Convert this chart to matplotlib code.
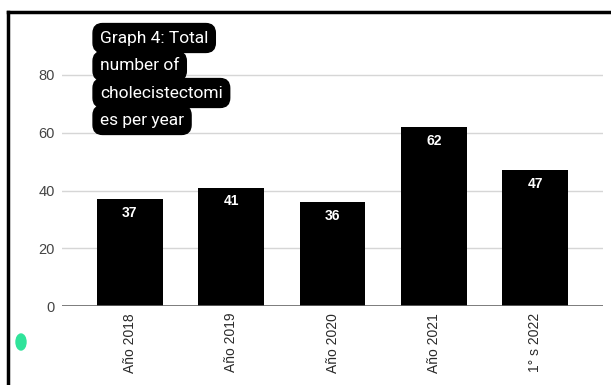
import matplotlib
matplotlib.use("Agg")
import matplotlib.pyplot as plt
from matplotlib.patches import Ellipse
from matplotlib.lines import Line2D

categories = ["Año 2018", "Año 2019", "Año 2020", "Año 2021", "1° s 2022"]
values = [37, 41, 36, 62, 47]
yticks = [0, 20, 40, 60, 80]
title_lines = ["Graph 4: Total", "number of", "cholecistectomi", "es per year"]

W, H = 611, 385
fig = plt.figure(figsize=(W / 100, H / 100), dpi=100)
fig.patch.set_facecolor("white")

# axes placement in pixels
left, right = 62, 603
y0, y80 = 306, 75
ppu = (y0 - y80) / 80.0
top_px = 14
bottom_px = y0
ax = fig.add_axes([left / W, 1 - bottom_px / H, (right - left) / W, (bottom_px - top_px) / H])
ax.set_ylim(0, (bottom_px - top_px) / ppu)
ax.set_xlim(-0.67, 4.67)

x = list(range(len(categories)))
bars = ax.bar(x, values, width=0.65, color="black", zorder=3)
for xi, v in zip(x, values):
    ax.text(xi, v - 2.3, str(v), ha="center", va="top", color="white",
            fontsize=10, fontweight="bold", family="Liberation Sans", zorder=4)

ax.set_yticks(yticks)
ax.set_yticklabels([str(t) for t in yticks], color="#444444", fontsize=10.5, family="Liberation Sans")
for t in yticks[1:]:
    ax.axhline(t, color="#d6d6d6", lw=1.0, zorder=1)
ax.axhline(0, color="#666666", lw=1.2, zorder=4)
ax.tick_params(axis="y", length=0, pad=5)
ax.tick_params(axis="x", length=0, pad=5)
ax.set_xticks(x)
ax.set_xticklabels(categories, rotation=90, color="#2a2a2a", fontsize=10, family="Liberation Sans")
for s in ax.spines.values():
    s.set_visible(False)

# title blobs
ty = [38, 66, 93, 120]
for line, yy in zip(title_lines, ty):
    fig.text(100 / W, 1 - yy / H, line, ha="left", va="center", color="white",
             fontsize=12.5, family="Roboto", zorder=10,
             bbox=dict(boxstyle="round,pad=0.4,rounding_size=0.55", fc="black", ec="black"))

# screenshot frame
fig.add_artist(Line2D([8 / W, 1], [1 - 12 / H, 1 - 12 / H], color="black", lw=2.5, transform=fig.transFigure))
fig.add_artist(Line2D([8 / W, 8 / W], [1 - 12 / H, 0], color="black", lw=2.5, transform=fig.transFigure))

# green blob
fig.add_artist(Ellipse((21 / W, 1 - 342 / H), 10 / W, 16 / H, color="#2fe39a", transform=fig.transFigure))

fig.savefig("out.png", dpi=100)
